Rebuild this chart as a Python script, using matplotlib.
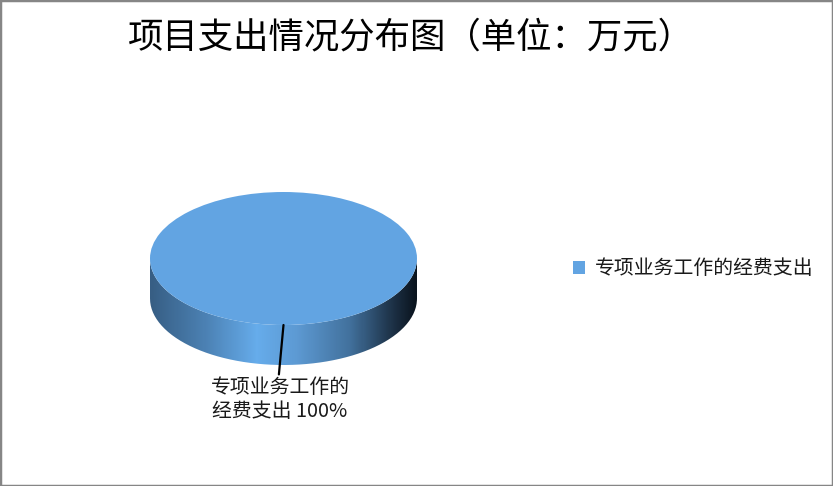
import matplotlib
matplotlib.use('Agg')
import matplotlib.pyplot as plt
import numpy as np
from matplotlib.colors import LinearSegmentedColormap
from matplotlib.patches import PathPatch, Rectangle
from matplotlib.path import Path

plt.rcParams['font.family'] = ['Noto Sans CJK SC', 'DejaVu Sans']

title = '项目支出情况分布图（单位：万元）'
categories = ['专项业务工作的经费支出']
values = [100]

W, H = 833, 486
fig = plt.figure(figsize=(W / 100, H / 100), dpi=100)
fig.add_artist(Rectangle((0, 0), 1, 1, transform=fig.transFigure, fill=False,
                         edgecolor='#868686', linewidth=2.5))

fig.text(411 / W, 1 - 37 / H, title, fontsize=25.5, color='black', ha='center', va='center')

# pie axes, ellipse 150-417 wide, 192-325 tall, 40px of depth under it
depth = 40 / 66.5
ax = fig.add_axes([150 / W, 1 - 365 / H, 267 / W, 173 / H])
wedges, _ = ax.pie(values, colors=['#62A4E2'], startangle=90, radius=1,
                   wedgeprops={'zorder': 3, 'linewidth': 0})

# side wall with the horizontal shading
t = np.linspace(np.pi, 2 * np.pi, 120)
xs = np.cos(t)
ys = np.sin(t)
wall = np.vstack([np.column_stack([xs, ys - depth]),
                  np.column_stack([xs[::-1], ys[::-1]])])
shade = LinearSegmentedColormap.from_list('side', [
    (0.0, '#375E84'), (0.2, '#4B80B2'), (0.4, '#66ACEB'), (0.55, '#5D9AD3'),
    (0.75, '#42719D'), (0.92, '#1B2E42'), (1.0, '#0A141E')])
img = ax.imshow(np.linspace(0, 1, 267)[None, :], cmap=shade, aspect='auto',
                extent=(-1, 1, -1 - depth, 1), zorder=1)
img.set_clip_path(PathPatch(Path(wall), transform=ax.transData))

ax.set_aspect('auto')
ax.set_xlim(-1, 1)
ax.set_ylim(-1 - depth, 1)
ax.axis('off')

# leader line and data label
ax.annotate(f'{categories[0][:7]}\n{categories[0][7:]} {values[0]}%',
            xy=(0.0, -1.0), xytext=(-0.026, -1.785),
            ha='center', va='top', multialignment='center', fontsize=14.3,
            color='#1a1a1a', linespacing=1.15,
            annotation_clip=False, zorder=5,
            arrowprops={'arrowstyle': '-', 'color': 'black', 'linewidth': 1.6,
                        'shrinkA': 0, 'shrinkB': 0, 'relpos': (0.49, 1.0)})

fig.legend(wedges, categories, loc='center left', bbox_to_anchor=(555 / W, 1 - 269 / H),
           frameon=False, fontsize=14.3, labelcolor='#1a1a1a', handlelength=0.62,
           handleheight=0.62, handletextpad=0.5)

fig.savefig('out.png', dpi=100)
